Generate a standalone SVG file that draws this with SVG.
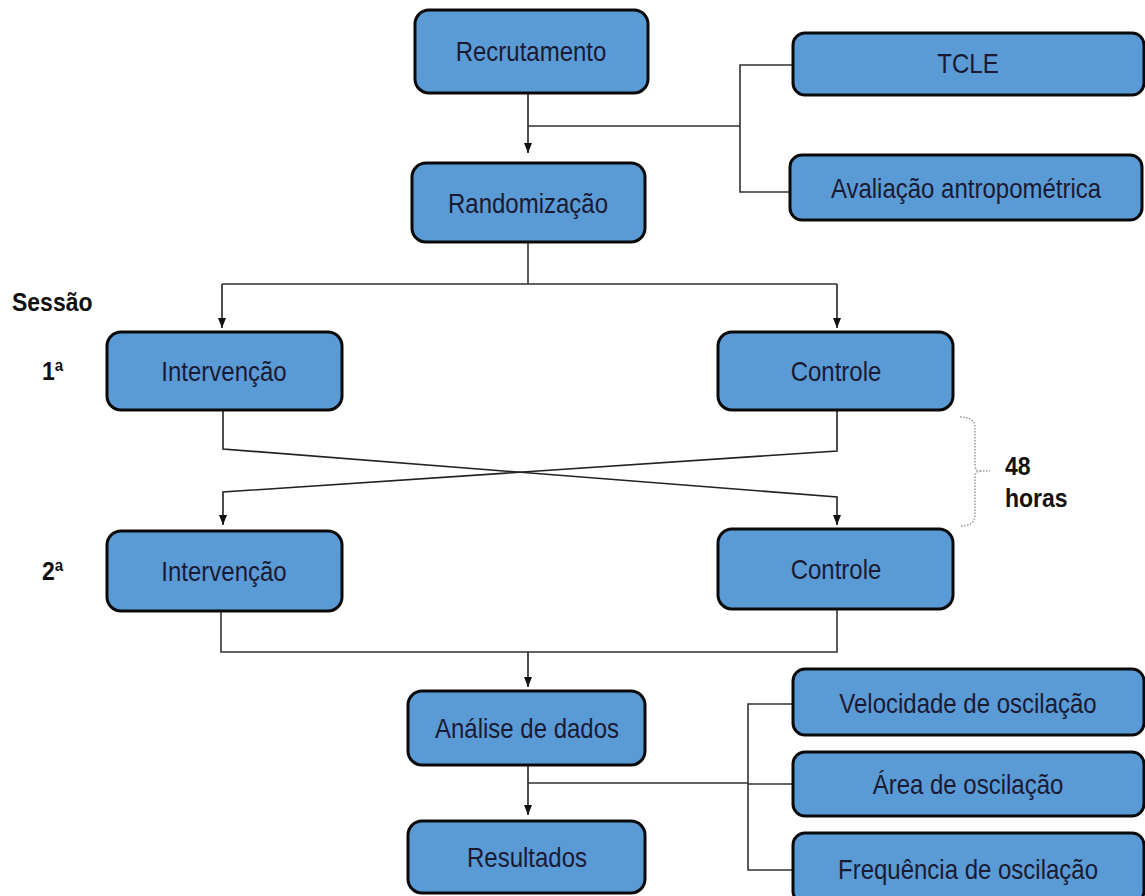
<svg xmlns="http://www.w3.org/2000/svg" width="1145" height="896" viewBox="0 0 1145 896">
<style>
.box{fill:#5B9BD5;stroke:#0a0a0a;stroke-width:3}
.t{font-family:"Liberation Sans",Arial,sans-serif;font-size:24px;fill:#1a1a33;text-anchor:middle}
.b{font-family:"Liberation Sans",Arial,sans-serif;font-size:23px;font-weight:bold;fill:#111}
.ln{fill:none;stroke:#333;stroke-width:1.6}
.arr{fill:none;stroke:#222;stroke-width:1.6;marker-end:url(#ah)}
.br{fill:none;stroke:#999;stroke-width:1.5;stroke-dasharray:1.5 1.5}
</style>
<defs>
<marker id="ah" viewBox="0 0 10 10" refX="10" refY="5" markerWidth="10" markerHeight="8" orient="auto" markerUnits="userSpaceOnUse" preserveAspectRatio="none">
<path d="M0,0 L10,5 L0,10 z" fill="#111"/>
</marker>
</defs>
<rect width="1145" height="896" fill="#fff"/>
<g id="connectors">
<path class="arr" d="M528,93 V153"/>
<path class="ln" d="M528,126 H740 M793,65 H740 V192 H790"/>
<path class="ln" d="M528,242 V284 M222,284 H837"/>
<path class="arr" d="M222,284 V328"/>
<path class="arr" d="M837,284 V328"/>
<path class="arr" d="M223,410 V449 L837,497 V525"/>
<path class="arr" d="M837,410 V451 L223,492 V525"/>
<path class="ln" d="M221,611 V652 H837 V609"/>
<path class="arr" d="M528,652 V687"/>
<path class="arr" d="M528,765 V815"/>
<path class="ln" d="M528,783 H748 M793,704 H748 V870 H793 M748,784 H793"/>
<path class="br" d="M960,417 Q975,417 975,428 V465 Q975,471 980,471 Q975,471 975,477 V515 Q975,526 960,526"/>
<path class="br" d="M980,471 H990"/>
</g>
<g id="recrutamento"><rect class="box" x="415" y="10" width="233" height="83" rx="14"/><text class="t" transform="translate(531,61) scale(1,1.13)">Recrutamento</text></g>
<g id="tcle"><rect class="box" x="793" y="33" width="351" height="62" rx="12"/><text class="t" transform="translate(968,73) scale(1,1.13)">TCLE</text></g>
<g id="avaliacao"><rect class="box" x="790" y="155" width="352" height="65" rx="12"/><text class="t" transform="translate(966,198) scale(1,1.13)">Avaliação antropométrica</text></g>
<g id="randomizacao"><rect class="box" x="412" y="163" width="233" height="79" rx="14"/><text class="t" transform="translate(528,213) scale(1,1.13)">Randomização</text></g>
<g id="sessao"><text class="b" transform="translate(12,311) scale(1,1.1)">Sessão</text></g>
<g id="s1"><text class="b" transform="translate(42,380) scale(1,1.1)">1ª</text></g>
<g id="s2"><text class="b" transform="translate(42,580) scale(1,1.1)">2ª</text></g>
<g id="intervencao1"><rect class="box" x="107" y="332" width="235" height="78" rx="14"/><text class="t" transform="translate(224,381) scale(1,1.13)">Intervenção</text></g>
<g id="controle1"><rect class="box" x="718" y="332" width="235" height="78" rx="14"/><text class="t" transform="translate(836,381) scale(1,1.13)">Controle</text></g>
<g id="horas"><text class="b" transform="translate(1005,475) scale(1,1.1)">48</text><text class="b" transform="translate(1005,507) scale(1,1.1)">horas</text></g>
<g id="intervencao2"><rect class="box" x="107" y="531" width="235" height="80" rx="14"/><text class="t" transform="translate(224,581) scale(1,1.13)">Intervenção</text></g>
<g id="controle2"><rect class="box" x="718" y="529" width="235" height="80" rx="14"/><text class="t" transform="translate(836,579) scale(1,1.13)">Controle</text></g>
<g id="analise"><rect class="box" x="408" y="691" width="237" height="74" rx="14"/><text class="t" transform="translate(527,738) scale(1,1.13)">Análise de dados</text></g>
<g id="resultados"><rect class="box" x="408" y="821" width="237" height="72" rx="14"/><text class="t" transform="translate(527,867) scale(1,1.13)">Resultados</text></g>
<g id="velocidade"><rect class="box" x="793" y="669" width="351" height="66" rx="12"/><text class="t" transform="translate(968,713) scale(1,1.13)">Velocidade de oscilação</text></g>
<g id="area"><rect class="box" x="793" y="752" width="351" height="64" rx="12"/><text class="t" transform="translate(968,794) scale(1,1.13)">Área de oscilação</text></g>
<g id="frequencia"><rect class="box" x="793" y="833" width="351" height="70" rx="12"/><text class="t" transform="translate(968,879) scale(1,1.13)">Frequência de oscilação</text></g>
</svg>
